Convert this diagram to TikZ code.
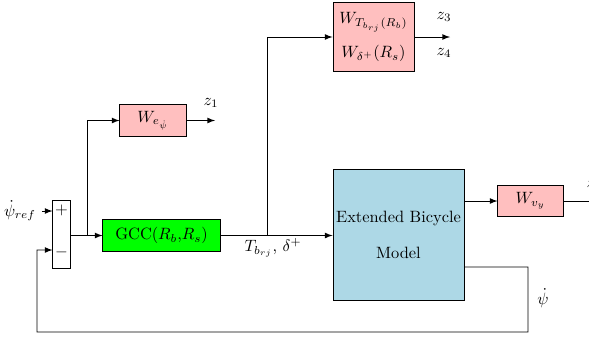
\documentclass[tikz,border=0pt]{standalone}
\usetikzlibrary{calc,arrows}
\begin{document}
\begin{tikzpicture}[x=0.61pt,y=-0.61pt,line width=0.6pt,
  blk/.style={draw,inner sep=0pt,align=center},
  pinkblk/.style={blk,fill=pink},
  arr/.style={-latex},
  lbl/.style={font=\large}]
\clip (0,0) rectangle (589,339);
\useasboundingbox (0,0) rectangle (589,339);
\node[blk,minimum width=10.4pt,minimum height=40.9pt] (sum) at (61.5,234.5) {};
\node (plus) at (61.5,210) {$+$};
\node (minus) at (61.5,252) {$-$};
\node (psiref) at (20,211) {$\dot\psi_{ref}$};
\node[pinkblk,minimum width=40.3pt,minimum height=20.1pt] (we) at (153,120.5) {$W_{e_{\dot\psi}}$};
\node[blk,fill=green,minimum width=71.4pt,minimum height=20.1pt] (gcc) at (161.5,235.5) {GCC($R_b$,$R_s$)};
\node[pinkblk,minimum width=49.4pt,minimum height=41.5pt] (wt) at (373.5,37) {$W_{T_{b_{rj}}(R_b)}$\\[7pt]$W_{\delta^+}(R_s)$};
\node[blk,fill={rgb,255:red,173;green,216;blue,230},minimum width=79.9pt,minimum height=79.9pt] (ebm) at (398.5,234.5) {Extended Bicycle\\[10pt]Model};
\node[pinkblk,minimum width=39.7pt,minimum height=19.5pt] (wv) at (530.5,201) {$W_{v_{y}}$};
\node (z1) at (211,103) {$z_1$};
\node (z3) at (444,17) {$z_3$};
\node (z4) at (444,53) {$z_4$};
\node (z2) at (594,185) {$z_2$};
\node (tb) at (273,248) {$T_{b_{rj}}$, $\delta^+$};
\node (psid) at (543,298) {$\dot\psi$};
\coordinate (zr) at (600,201);
\coordinate (we-out) at (215,120.5);
\coordinate (wt-out) at (450,37);
\coordinate (b1) at (87,235.5);
\coordinate (b2) at (267,235.5);
% connectors
\draw[arr] (psiref.east) -- (sum.west |- psiref.east);
\draw[arr] (sum.east |- gcc.west) -- (gcc.west);
\draw[arr] (b1) |- (we.west);
\draw[arr] (we.east) -- (we-out);
\draw[arr] (gcc.east) -- (ebm.west |- gcc.east);
\draw[arr] (b2) |- (wt.west);
\draw[arr] (wt.east) -- (wt-out);
\draw[arr] (ebm.east |- wv.west) -- (wv.west);
\draw[arr] (wv.east) -- (zr);
\coordinate (fb) at ($(ebm.east)+(0,32.5)$);
\coordinate (fbin) at ($(sum.west)+(0,15.5)$);
\draw[arr] (fb) -- (528,267) -- (528,332) -- (37,332) -- (37,250) -- (fbin);
\end{tikzpicture}
\end{document}
